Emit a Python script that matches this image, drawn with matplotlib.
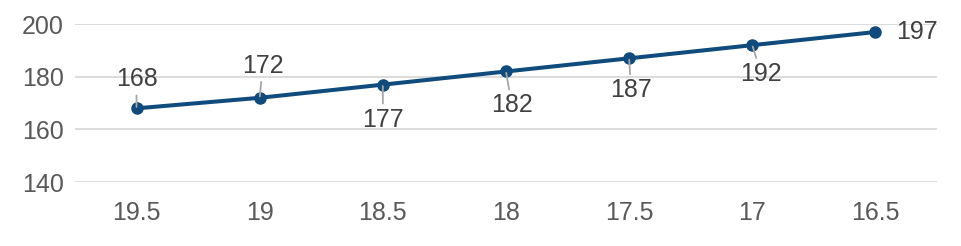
import matplotlib.pyplot as plt

plt.rcParams["font.family"] = ["Liberation Sans", "DejaVu Sans"]

categories = ["19.5", "19", "18.5", "18", "17.5", "17", "16.5"]
values = [168, 172, 177, 182, 187, 192, 197]
# label offsets in pixels (dx, dy)
label_offsets = [(0, 29), (3, 32), (0, -35), (6, -34), (2, -32), (9, -29), (42, 0)]

fig = plt.figure(figsize=(9.61, 2.46), dpi=100)
ax = fig.add_axes([0.078, 0.26, 0.897, 0.642])

x = list(range(len(categories)))
ax.plot(x, values, color="#0f4b7c", lw=2.9, marker="o", markersize=8, zorder=3)

for i, v in enumerate(values):
    dx, dy = label_offsets[i]
    arrow = None
    if dx < 20:
        arrow = dict(arrowstyle="-", color="#a6a6a6", lw=1.3, shrinkA=1, shrinkB=1)
    ax.annotate(str(v), (i, v), xytext=(dx, dy), textcoords="offset pixels",
                ha="center", va="center", fontsize=18, color="#404040",
                arrowprops=arrow, zorder=4)

ax.set_xlim(-0.5, 6.5)
ax.set_ylim(140, 200)
ax.set_yticks([140, 160, 180, 200])
ax.set_xticks(x)
ax.set_xticklabels(categories)
ax.grid(axis="y", color="#d9d9d9", lw=1.3)
ax.set_axisbelow(True)
for s in ax.spines.values():
    s.set_visible(False)
ax.tick_params(length=0, labelsize=18, labelcolor="#595959")
ax.tick_params(axis="x", pad=14)
ax.tick_params(axis="y", pad=8)

fig.savefig("out.png", dpi=100)
